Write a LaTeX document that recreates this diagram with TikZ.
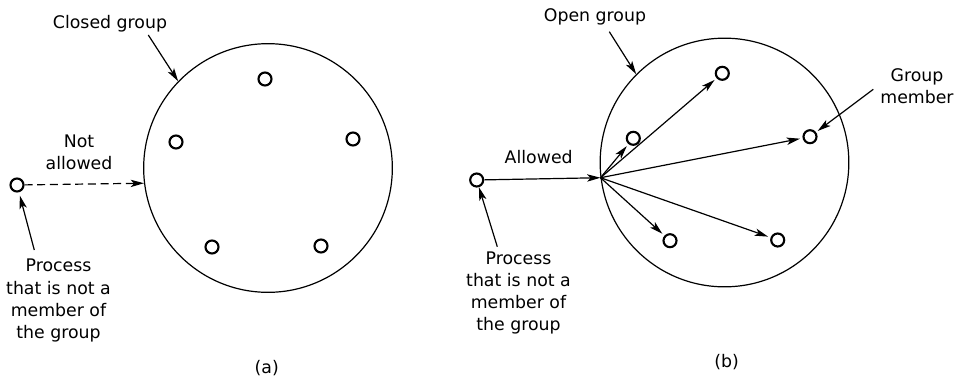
\documentclass[tikz,border=0pt]{standalone}
\usepackage{fontspec}
\setmainfont{DejaVu Sans}
\usetikzlibrary{arrows.meta}
\begin{document}
\begin{tikzpicture}[x=0.75pt,y=-0.75pt,
  proc/.style={circle,draw,line width=1.6pt,minimum size=9.75pt,inner sep=0pt},
  grp/.style={circle,draw,line width=0.9pt,minimum size=186.5pt,inner sep=0pt},
  lbl/.style={font=\fontsize{13}{16.6}\selectfont,align=center,inner sep=0pt},
  arr/.style={line width=0.9pt,-{Stealth[length=10pt,width=5.5pt,inset=2.5pt]}},
  ]
\useasboundingbox (0,0) rectangle (963,379);
% ---------- (a) closed group ----------
\node[grp] (G1) at (268,168) {};
\node[proc] (a1) at (265,79) {};
\node[proc] (a2) at (176,142) {};
\node[proc] (a3) at (353,139) {};
\node[proc] (a4) at (212,247) {};
\node[proc] (a5) at (321,246) {};
\node[proc] (P1) at (17,185) {};
\draw[arr,dash pattern=on 6pt off 3.5pt] (P1) -- (G1.187);
\node[lbl] (L1) at (110,23.75) {Closed group};
\coordinate (L1s) at (148.3,35);
\draw[arr] (L1s) -- (G1.136);
\node[lbl] (L2) at (79,152.5) {Not\\allowed};
\node[lbl] (L3) at (58.5,300.6) {Process\\that is not a\\member of\\the group};
\coordinate (L3s) at (34.3,250);
\draw[arr,shorten >=2.5pt] (L3s) -- (P1);
\node[lbl] (La) at (266.7,368.3) {(a)};
% ---------- (b) open group ----------
\node[grp] (G2) at (724.5,162.5) {};
\node[proc] (b1) at (722.3,73.3) {};
\node[proc] (b2) at (633.3,138.3) {};
\node[proc] (b3) at (810,136.7) {};
\node[proc] (b4) at (670,240.7) {};
\node[proc] (b5) at (777.7,240) {};
\node[proc] (P2) at (476.7,180) {};
\coordinate (J) at (G2.187);
\draw[arr] (P2) -- (J);
\foreach \m in {b1,b2,b3,b4,b5} \draw[arr,shorten >=2pt] (J) -- (\m);
\node[lbl] (L4) at (595,17.15) {Open group};
\coordinate (L4s) at (609.3,31.7);
\draw[arr] (L4s) -- (G2.135);
\node[lbl] (L7) at (538.7,157.4) {Allowed};
\node[lbl] (L5) at (917,86.2) {Group\\member};
\coordinate (L5s) at (873.3,89.3);
\draw[arr,shorten >=1.5pt] (L5s) -- (b3);
\node[lbl] (L6) at (518.5,293.2) {Process\\that is not a\\member of\\the group};
\coordinate (L6s) at (497.3,246.7);
\draw[arr] (L6s) -- (P2);
\node[lbl] (Lb) at (726.7,361.7) {(b)};
\end{tikzpicture}
\end{document}
